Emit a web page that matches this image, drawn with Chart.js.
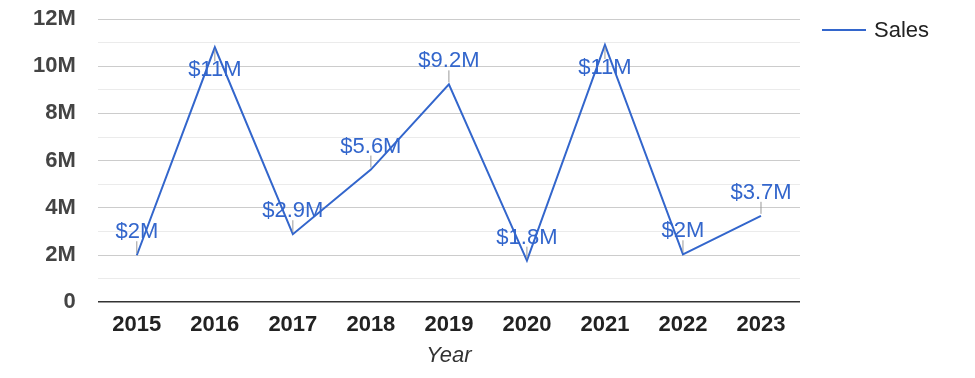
<!DOCTYPE html>
<html>
<head>
<meta charset="utf-8">
<script src="https://cdn.jsdelivr.net/npm/chart.js@4.4.0/dist/chart.umd.min.js"></script>
<style>
  body { margin: 0; background: #fff; }
</style>
</head>
<body>
<canvas id="myChart" width="975" height="378"></canvas>
<script>
const years = ['2015', '2016', '2017', '2018', '2019', '2020', '2021', '2022', '2023'];
const sales = [1990000, 10800000, 2880000, 5620000, 9230000, 1760000, 10900000, 2030000, 3660000];
const seriesName = 'Sales';
const axisTitle = 'Year';

const FONT = 'Arial, "Liberation Sans", sans-serif';
const BLUE = '#3366cc';

function money(v) {
    const m = Number((v / 1e6).toPrecision(2));
    return '$' + m + 'M';
}

// value labels with the small grey leader line, google charts style
const pointLabels = {
    id: 'pointLabels',
    afterDatasetsDraw(chart) {
        const ctx = chart.ctx;
        const meta = chart.getDatasetMeta(0);
        const area = chart.chartArea;
        ctx.save();
        ctx.font = '22px ' + FONT;
        ctx.textAlign = 'center';
        ctx.textBaseline = 'middle';
        meta.data.forEach((pt, i) => {
            const text = money(chart.data.datasets[0].data[i]);
            let cy = pt.y - 23;
            let below = false;
            if (cy - 11 < area.top) { cy = pt.y + 23; below = true; }
            ctx.strokeStyle = '#999';
            ctx.lineWidth = 1;
            ctx.beginPath();
            if (below) {
                ctx.moveTo(pt.x, pt.y + 2);
                ctx.lineTo(pt.x, cy - 9);
            } else {
                ctx.moveTo(pt.x, pt.y - 2);
                ctx.lineTo(pt.x, cy + 9);
            }
            ctx.stroke();
            ctx.fillStyle = BLUE;
            ctx.fillText(text, pt.x, cy);
        });
        ctx.restore();
    }
};

// legend on the right, line + name
const sideLegend = {
    id: 'sideLegend',
    afterDraw(chart) {
        const ctx = chart.ctx;
        const x = chart.chartArea.right + 22;
        const y = 30;
        ctx.save();
        ctx.strokeStyle = BLUE;
        ctx.lineWidth = 2;
        ctx.beginPath();
        ctx.moveTo(x, y);
        ctx.lineTo(x + 44, y);
        ctx.stroke();
        ctx.fillStyle = '#222';
        ctx.font = '22px ' + FONT;
        ctx.textBaseline = 'middle';
        ctx.fillText(seriesName, x + 52, y + 1);
        ctx.restore();
    }
};

const ctx = document.getElementById('myChart');
const myChart = new Chart(ctx, {
    type: 'line',
    data: {
        labels: years,
        datasets: [{
            label: seriesName,
            data: sales,
            borderColor: BLUE,
            backgroundColor: BLUE,
            borderWidth: 2,
            pointRadius: 0,
            tension: 0
        }]
    },
    options: {
        responsive: false,
        animation: false,
        layout: {
            padding: {left: 11, right: 175, top: 19, bottom: 0}
        },
        plugins: {
            legend: {display: false},
            tooltip: {enabled: false}
        },
        scales: {
            x: {
                offset: true,
                grid: {display: false, drawTicks: false},
                border: {display: false},
                ticks: {
                    color: '#222',
                    padding: 10,
                    font: {family: FONT, size: 22, weight: 'bold'}
                },
                title: {
                    display: true,
                    text: axisTitle,
                    color: '#333',
                    padding: {top: -6, bottom: 9},
                    font: {family: FONT, size: 22, style: 'italic'}
                }
            },
            y: {
                min: 0,
                max: 12000000,
                border: {display: false},
                // tick padding would otherwise push the plot top down
                afterFit: s => { s.paddingTop = 0; },
                grid: {
                    drawTicks: false,
                    color: c => c.tick.value === 0 ? '#333' : (c.tick.value % 2000000 === 0 ? '#ccc' : '#ebebeb'),
                    lineWidth: c => c.tick.value === 0 ? 1.5 : 1
                },
                ticks: {
                    stepSize: 1000000,
                    autoSkip: false,
                    padding: 22,
                    color: '#444',
                    font: {family: FONT, size: 22, weight: 'bold'},
                    callback: v => v === 0 ? '0' : (v % 2000000 === 0 ? (v / 1e6) + 'M' : '')
                }
            }
        }
    },
    plugins: [pointLabels, sideLegend]
});
</script>
</body>
</html>
